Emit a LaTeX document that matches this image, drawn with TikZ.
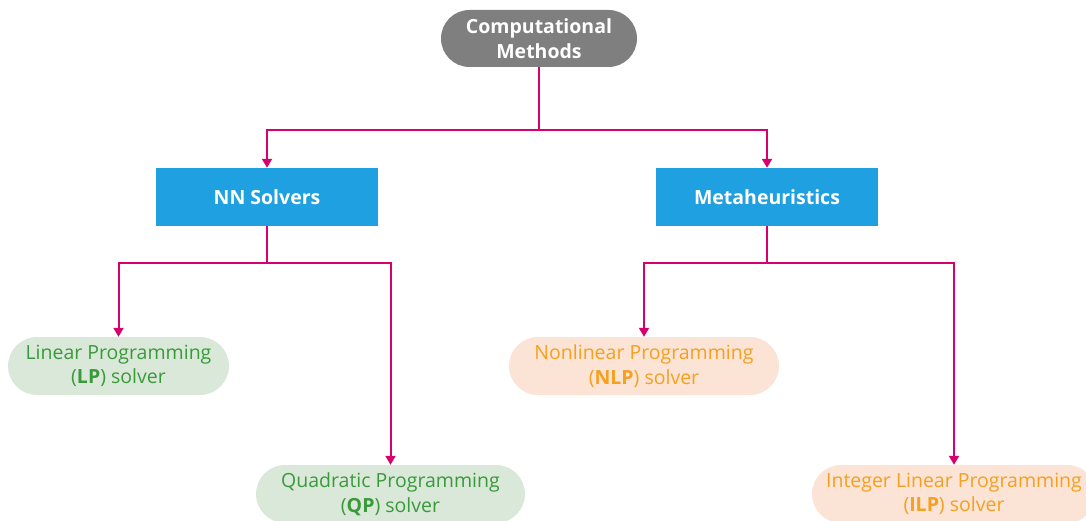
\documentclass[tikz,border=0pt]{standalone}
\usepackage{fontspec}
\setmainfont{Open Sans}
\usetikzlibrary{arrows.meta}
\definecolor{headgray}{RGB}{127,127,127}
\definecolor{boxblue}{RGB}{31,160,224}
\definecolor{linkmag}{RGB}{214,0,111}
\definecolor{greenfill}{RGB}{218,232,218}
\definecolor{greentext}{RGB}{58,154,58}
\definecolor{peachfill}{RGB}{251,228,213}
\definecolor{orangetext}{RGB}{245,160,30}
\tikzset{
  x=1pt, y=-1pt,
  basefont/.style={font=\fontsize{19.5}{24.5}\selectfont, align=center, inner sep=0pt},
  pill/.style={basefont, rounded corners=28.5pt, minimum height=57pt},
  headnode/.style={pill, fill=headgray, text=white, font=\fontsize{19.5}{24.5}\selectfont\bfseries, minimum width=196pt},
  catbox/.style={basefont, fill=boxblue, text=white, font=\fontsize{19.5}{24.5}\selectfont\bfseries, minimum width=222pt, minimum height=58pt},
  greenleaf/.style={pill, fill=greenfill, text=greentext, minimum height=58pt, rounded corners=29pt},
  orangeleaf/.style={pill, fill=peachfill, text=orangetext, minimum height=58pt, rounded corners=29pt},
  link/.style={draw=linkmag, line width=2pt},
  arrowlink/.style={link, -{Triangle[length=9pt,width=10pt]}},
}
\begin{document}
\begin{tikzpicture}
\useasboundingbox (0,0) rectangle (1086,521);
% root
\node[headnode] (root) at (539,38.5) {Computational\\Methods};
% categories
\node[catbox] (nn) at (267,197) {NN Solvers};
\node[catbox] (meta) at (767,197) {Metaheuristics};
% solvers
\node[greenleaf, minimum width=221pt] (lp) at (118.5,366) {Linear Programming\\(\textbf{LP}) solver};
\node[greenleaf, minimum width=269pt] (qp) at (390.5,494) {Quadratic Programming\\(\textbf{QP}) solver};
\node[orangeleaf, minimum width=270pt] (nlp) at (644,366) {Nonlinear Programming\\(\textbf{NLP}) solver};
\node[orangeleaf, minimum width=284pt] (ilp) at (954,494) {Integer Linear Programming\\(\textbf{ILP}) solver};
% junctions
\coordinate (j0) at (539,130);
\coordinate (j1) at (267,263);
\coordinate (j2) at (767,263);
% connectors
\draw[link] (root.south) -- (j0);
\draw[arrowlink] (j0) -| (nn.north);
\draw[arrowlink] (j0) -| (meta.north);
\draw[link] (nn.south) -- (j1);
\draw[arrowlink] (j1) -| (lp.north);
\draw[arrowlink] (j1) -| (qp.north);
\draw[link] (meta.south) -- (j2);
\draw[arrowlink] (j2) -| (nlp.north);
\draw[arrowlink] (j2) -| (ilp.north);
\end{tikzpicture}
\end{document}
